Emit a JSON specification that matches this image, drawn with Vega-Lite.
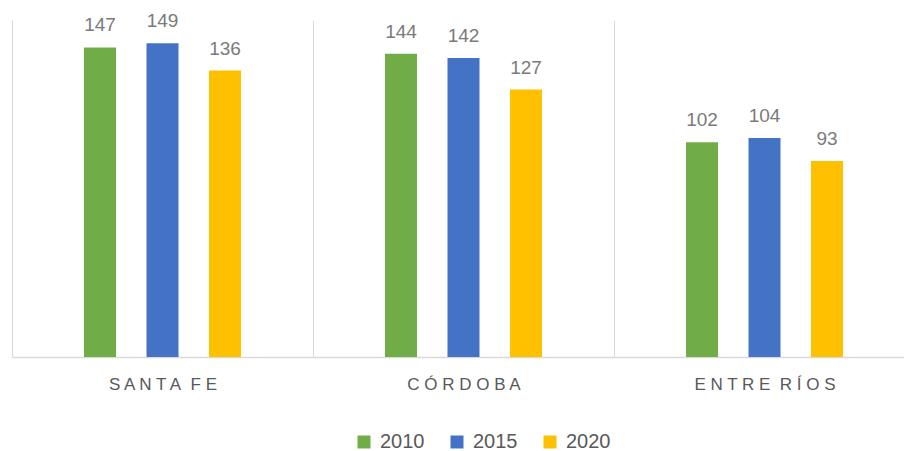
{
  "$schema": "https://vega.github.io/schema/vega-lite/v6.json",
  "autosize": "none",
  "padding": {"left": 12, "top": 20, "right": 0, "bottom": 94},
  "width": 903,
  "height": 337,
  "background": "white",
  "data": {
    "values": [
      {"provincia": "SANTA FE", "anio": "2010", "valor": 147},
      {"provincia": "SANTA FE", "anio": "2015", "valor": 149},
      {"provincia": "SANTA FE", "anio": "2020", "valor": 136},
      {"provincia": "CÓRDOBA", "anio": "2010", "valor": 144},
      {"provincia": "CÓRDOBA", "anio": "2015", "valor": 142},
      {"provincia": "CÓRDOBA", "anio": "2020", "valor": 127},
      {"provincia": "ENTRE RÍOS", "anio": "2010", "valor": 102},
      {"provincia": "ENTRE RÍOS", "anio": "2015", "valor": 104},
      {"provincia": "ENTRE RÍOS", "anio": "2020", "valor": 93}
    ]
  },
  "encoding": {
    "x": {
      "field": "provincia",
      "type": "nominal",
      "sort": ["SANTA FE", "CÓRDOBA", "ENTRE RÍOS"],
      "scale": {"paddingInner": 0, "paddingOuter": 0},
      "axis": {
        "title": null,
        "ticks": false,
        "tickBand": "extent",
        "grid": true,
        "gridColor": "#d9d9d9",
        "gridWidth": 1,
        "domainColor": "#d9d9d9",
        "domainWidth": 1.5,
        "labelAngle": 0,
        "labelFont": "Liberation Sans",
        "labelFontSize": 17,
        "labelColor": "#595959",
        "labelPadding": 19,
        "labelExpr": "replace(join(split(datum.label, ''), ' '), '   ', '\u00a0\u00a0')"
      }
    },
    "xOffset": {
      "field": "anio",
      "type": "nominal",
      "scale": {"range": [9.5, 291.5], "paddingInner": 0.488, "paddingOuter": 1}
    },
    "y": {
      "field": "valor",
      "type": "quantitative",
      "scale": {"domain": [0, 160], "nice": false, "zero": true},
      "axis": null
    }
  },
  "layer": [
    {
      "mark": {"type": "bar"},
      "encoding": {
        "color": {
          "field": "anio",
          "type": "nominal",
          "scale": {"domain": ["2010", "2015", "2020"], "range": ["#70AD47", "#4472C4", "#FFC000"]},
          "legend": {
            "title": null,
            "orient": "none",
            "direction": "horizontal",
            "columns": 3,
            "legendX": 342,
            "legendY": 412,
            "padding": 0,
            "symbolType": "square",
            "symbolSize": 169,
            "symbolStrokeWidth": 0,
            "labelFont": "Liberation Sans",
            "labelFontSize": 20,
            "labelColor": "#595959",
            "labelOffset": 6,
            "columnPadding": 22
          }
        }
      }
    },
    {
      "mark": {
        "type": "text",
        "baseline": "alphabetic",
        "dy": -16,
        "font": "Liberation Sans",
        "fontSize": 19,
        "color": "#7a7a7a"
      },
      "encoding": {
        "text": {"field": "valor", "type": "quantitative"}
      }
    }
  ],
  "config": {"view": {"stroke": null}}
}
